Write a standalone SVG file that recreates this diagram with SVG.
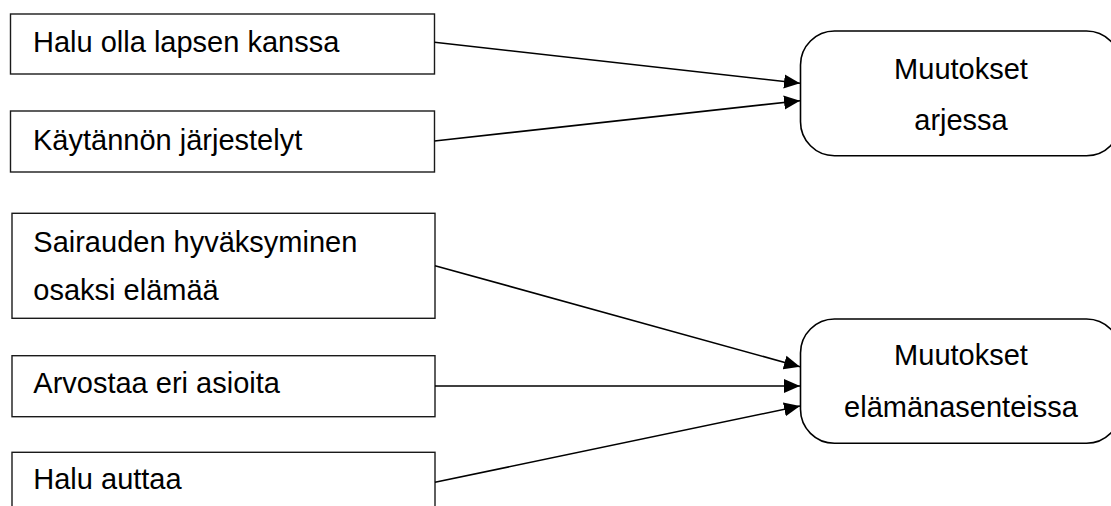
<svg xmlns="http://www.w3.org/2000/svg" width="1111" height="506" viewBox="0 0 1111 506">
  <style>
    .box { fill: #ffffff; stroke: #1a1a1a; stroke-width: 1.4; }
    .goal { fill: #ffffff; stroke: #000000; stroke-width: 1.6; }
    .label { font-family: "Liberation Sans", Arial, sans-serif; font-size: 29px; fill: #000000; }
    .mid { text-anchor: middle; }
    .link { stroke: #000000; stroke-width: 1.6; fill: none; marker-end: url(#head); }
  </style>
  <defs>
    <marker id="head" markerUnits="userSpaceOnUse" markerWidth="17" markerHeight="16" viewBox="0 0 17 16" refX="16" refY="8" orient="auto">
      <path d="M0,1 L16,8 L0,15 Z" fill="#000000"/>
    </marker>
  </defs>
  <rect width="1111" height="506" fill="#ffffff"/>

  <!-- source boxes -->
  <g id="halu-olla">
    <rect class="box" x="10.5" y="14" width="424" height="60"/>
    <text class="label" x="33" y="52.3">Halu olla lapsen kanssa</text>
  </g>
  <g id="kaytannon">
    <rect class="box" x="10.5" y="111" width="424" height="61"/>
    <text class="label" x="33" y="150">Käytännön järjestelyt</text>
  </g>
  <g id="sairauden">
    <rect class="box" x="12" y="213.3" width="423" height="105"/>
    <text class="label" x="33.3" y="252.3">Sairauden hyväksyminen</text>
    <text class="label" x="33.3" y="300">osaksi elämää</text>
  </g>
  <g id="arvostaa">
    <rect class="box" x="12" y="355.7" width="423" height="61"/>
    <text class="label" x="33.3" y="393.3">Arvostaa eri asioita</text>
  </g>
  <g id="halu-auttaa">
    <rect class="box" x="12" y="452.3" width="423" height="70"/>
    <text class="label" x="33.3" y="489.3">Halu auttaa</text>
  </g>

  <!-- outcome boxes -->
  <g id="arjessa">
    <rect class="goal" x="800.5" y="31" width="320" height="124.7" rx="34" ry="34"/>
    <text class="label mid" x="961" y="79.3">Muutokset</text>
    <text class="label mid" x="961" y="130">arjessa</text>
  </g>
  <g id="elamanasenteissa">
    <rect class="goal" x="800.5" y="319" width="320" height="124.3" rx="34" ry="34"/>
    <text class="label mid" x="961" y="365">Muutokset</text>
    <text class="label mid" x="961" y="416.7">elämänasenteissa</text>
  </g>

  <!-- connectors -->
  <g id="connectors">
    <line class="link" x1="434.5" y1="42.3" x2="800" y2="83.3"/>
    <line class="link" x1="434.5" y1="141" x2="800" y2="100.7"/>
    <line class="link" x1="435" y1="265.7" x2="800" y2="366.7"/>
    <line class="link" x1="435" y1="386" x2="800" y2="386"/>
    <line class="link" x1="435" y1="482.3" x2="800" y2="406"/>
  </g>
</svg>
